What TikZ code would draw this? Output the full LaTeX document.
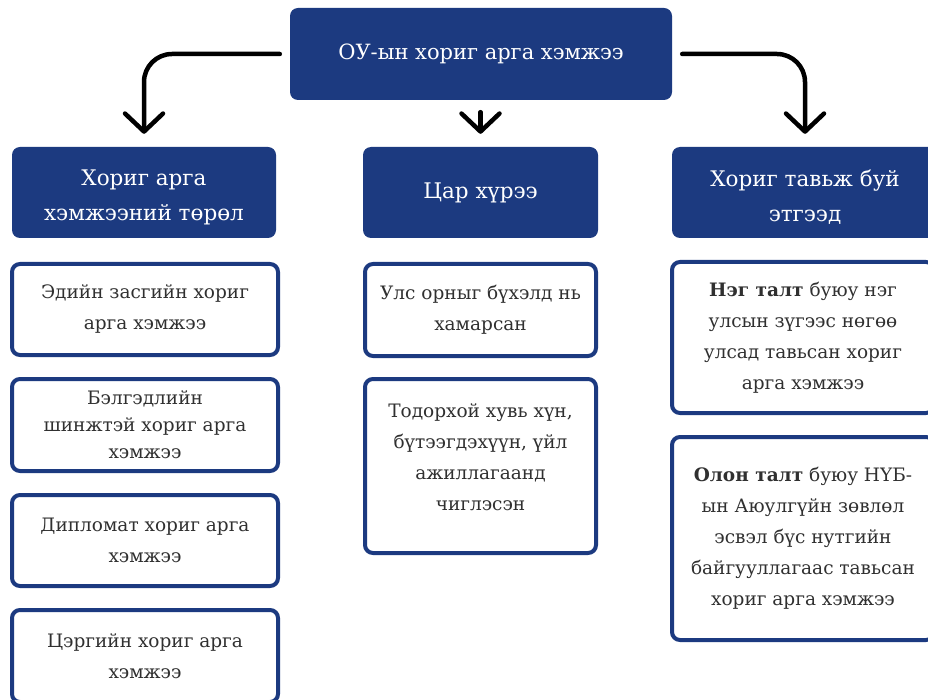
\documentclass[tikz,border=0pt]{standalone}
\usepackage{fontspec}
\setmainfont{DejaVu Serif}
\usetikzlibrary{arrows.meta}
\definecolor{navy}{RGB}{28,58,128}
\definecolor{txt}{RGB}{48,48,48}
\newcommand{\topfont}{\fontsize{21}{35}\selectfont}
\newcommand{\hdfont}{\fontsize{21.5}{35}\selectfont}
\newcommand{\bdfont}{\fontsize{18.5}{31}\selectfont}
\newcommand{\tightfont}{\fontsize{18.5}{27}\selectfont}
\newcommand{\downstrut}{\rule{0pt}{26pt}}
\newcommand{\upstrut}{\rule[-18pt]{0pt}{1pt}}
\begin{document}
\begin{tikzpicture}[x=1pt,y=-1pt,
  navybox/.style={fill=navy, draw=none, rounded corners=8pt, text=white, align=center, font=\hdfont, inner sep=0pt},
  whitebox/.style={fill=white, draw=navy, line width=4pt, rounded corners=8pt, text=txt, align=center, font=\bdfont, inner sep=0pt},
  arr/.style={draw=black, line width=4.5pt, line cap=round, line join=round, rounded corners=28pt,
    -{Straight Barb[length=18pt,width=38pt,round]}}]
\useasboundingbox (0,0) rectangle (928,700);
\fill[white] (0,0) rectangle (928,700);

% headers
\node[navybox, font=\topfont, minimum width=382pt, minimum height=92pt] (top) at (481,54) {ОУ-ын хориг арга хэмжээ};
\node[navybox, minimum width=264pt, minimum height=91pt] (lh) at (144,192.5) {\downstrut Хориг арга\\хэмжээний төрөл};
\node[navybox, minimum width=235pt, minimum height=91pt] (mh) at (480.5,192.5) {Цар хүрээ};
\node[navybox, minimum width=266pt, minimum height=91pt] (rh) at (805,192.5) {\downstrut Хориг тавьж буй\\этгээд};

% left column
\node[whitebox, minimum width=266pt, minimum height=91pt] (l1) at (145,309.5) {Эдийн засгийн хориг\\арга хэмжээ};
\node[whitebox, font=\tightfont, minimum width=266pt, minimum height=92pt] (l2) at (145,425) {Бэлгэдлийн\\шинжтэй хориг арга\\хэмжээ};
\node[whitebox, minimum width=266pt, minimum height=91pt] (l3) at (145,540.5) {Дипломат хориг арга\\хэмжээ};
\node[whitebox, minimum width=266pt, minimum height=92pt] (l4) at (145,656) {Цэргийн хориг арга\\хэмжээ};

% middle column
\node[whitebox, minimum width=231pt, minimum height=92pt] (m1) at (480.5,310) {Улс орныг бүхэлд нь\\хамарсан};
\node[whitebox, minimum width=231pt, minimum height=174pt] (m2) at (480.5,466) {Тодорхой хувь хүн,\\бүтээгдэхүүн, үйл\\ажиллагаанд\\чиглэсэн\upstrut};

% right column
\node[whitebox, minimum width=262pt, minimum height=151pt] (r1) at (803,337.5) {\textbf{Нэг талт} буюу нэг\\улсын зүгээс нөгөө\\улсад тавьсан хориг\\арга хэмжээ};
\node[whitebox, minimum width=262pt, minimum height=203pt] (r2) at (803,538.5) {\textbf{Олон талт} буюу НҮБ-\\ын Аюулгүйн зөвлөл\\эсвэл бүс нутгийн\\байгууллагаас тавьсан\\хориг арга хэмжээ};

% connectors
\draw[arr, shorten <=10pt, shorten >=13pt] (top.west) -| (lh.north);
\draw[arr, shorten <=10pt, shorten >=13pt] (top.east) -| (rh.north);
\draw[arr, shorten <=12pt, shorten >=13pt] (top.south -| mh.north) -- (mh.north);
\end{tikzpicture}
\end{document}
